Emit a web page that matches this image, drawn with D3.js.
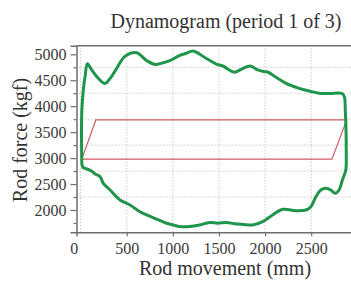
<!DOCTYPE html>
<html><head><meta charset="utf-8">
<script src="https://cdn.jsdelivr.net/npm/d3@7"></script>
<style>
html,body{margin:0;padding:0;background:#fff;overflow:hidden;}
svg{display:block;font-family:"Liberation Serif","Times New Roman",serif;}
</style></head>
<body>
<svg id="chart" width="351" height="281"></svg>
<script>
const title = "Dynamogram (period 1 of 3)";
const xLabel = "Rod movement (mm)";
const yLabel = "Rod force (kgf)";
const xTicks = [0, 500, 1000, 1500, 2000, 2500];
const yTicks = [2000, 2500, 3000, 3500, 4000, 4500, 5000];
const yMinorTicks = [1750, 2250, 2750, 3250, 3750, 4250, 4750];
// measured loop (rod movement, rod force)
const loopX = [12, 9, 13, 28, 50, 73, 120, 190, 265, 330, 391, 480, 607, 715, 805, 880, 966, 1075, 1147, 1218, 1363, 1471, 1542, 1668, 1740, 1838, 1920, 1992, 2028, 2119, 2227, 2370, 2478, 2586, 2694, 2835, 2860, 2870, 2878, 2880, 2875, 2838, 2802, 2759, 2713, 2659, 2605, 2551, 2497, 2443, 2335, 2190, 2082, 1974, 1866, 1760, 1668, 1579, 1488, 1398, 1290, 1182, 1075, 1002, 931, 858, 715, 643, 535, 427, 319, 246, 211, 157, 110, 49, 24, 13, 12];
const loopY = [3000, 3450, 3920, 4300, 4600, 4820, 4700, 4540, 4440, 4560, 4730, 4960, 5030, 4880, 4805, 4830, 4877, 4980, 5020, 5065, 4920, 4813, 4775, 4655, 4711, 4775, 4700, 4665, 4660, 4557, 4441, 4345, 4293, 4250, 4245, 4245, 4180, 3900, 3500, 3100, 2771, 2578, 2385, 2322, 2385, 2418, 2385, 2256, 2064, 2000, 1987, 2013, 1904, 1775, 1711, 1722, 1735, 1760, 1745, 1760, 1711, 1680, 1680, 1711, 1744, 1800, 1904, 1967, 2096, 2193, 2385, 2514, 2642, 2694, 2758, 2803, 2823, 2900, 3000];
// reference parallelogram (rod movement, rod force)
const refX = [12, 165, 2885, 2725, 12];
const refY = [2980, 3735, 3735, 2980, 2980];

const svg = d3.select("#chart");
const x = d3.scaleLinear().domain([-45, 2937]).range([76.5, 351.5]);
const y = d3.scaleLinear().domain([1570, 5166]).range([232.3, 45.7]);

const axisCol = "#6f6f6f";
const gridCol = "#b5b5b5";
const serif = '"Liberation Serif", "Times New Roman", serif';

// grid
const g = svg.append("g");
g.selectAll("line.vg").data(xTicks).join("line")
  .attr("x1", d => x(d)).attr("x2", d => x(d))
  .attr("y1", y.range()[0]).attr("y2", y.range()[1])
  .attr("stroke", gridCol).attr("stroke-width", 1).attr("stroke-dasharray", "1,2");
g.selectAll("line.hg").data(yMinorTicks.filter(d => d > 2000)).join("line")
  .attr("x1", x.range()[0]).attr("x2", x.range()[1])
  .attr("y1", d => y(d)).attr("y2", d => y(d))
  .attr("stroke", gridCol).attr("stroke-width", 1).attr("stroke-dasharray", "1,2");

// reference parallelogram
const refPts = refX.map((v, i) => [v, refY[i]]);
svg.append("path")
  .attr("d", d3.line().x(d => x(d[0])).y(d => y(d[1]))(refPts))
  .attr("fill", "none").attr("stroke", "#cf5b60").attr("stroke-width", 1.2);

// loop
const pts = loopX.map((v, i) => [v, loopY[i]]);
svg.append("path")
  .attr("d", d3.line().x(d => x(d[0])).y(d => y(d[1])).curve(d3.curveCatmullRom.alpha(0.5))(pts))
  .attr("fill", "none").attr("stroke", "#1f954b").attr("stroke-width", 3).attr("stroke-linejoin", "round");

// axes
const fmt = d3.format("d");
const xAxis = svg.append("g").attr("transform", `translate(0,${y.range()[0]})`)
  .call(d3.axisBottom(x).tickValues(xTicks).tickFormat(fmt).tickSize(4).tickPadding(6));
const yAxis = svg.append("g").attr("transform", `translate(${x.range()[0]},0)`)
  .call(d3.axisLeft(y).tickValues(yTicks).tickFormat(fmt).tickSize(6).tickPadding(4));
svg.append("g").attr("transform", `translate(${x.range()[0]},0)`)
  .call(d3.axisLeft(y).tickValues(yMinorTicks).tickSize(3).tickFormat(""))
  .call(a => a.select(".domain").remove())
  .selectAll("line").attr("stroke", axisCol).attr("stroke-width", 1.2);
[xAxis, yAxis].forEach(a => {
  a.attr("font-family", serif).attr("font-size", 16);
  a.select(".domain").attr("stroke", axisCol).attr("stroke-width", 1.5);
  a.selectAll(".tick line").attr("stroke", axisCol).attr("stroke-width", 1.2);
  a.selectAll(".tick text").attr("fill", "#3a3a3a")
    .attr("font-family", serif).attr("font-size", 16);
});
xAxis.select(".tick line").attr("display", "none");
xAxis.select(".tick text").attr("dx", -7);
// top frame line
svg.append("line")
  .attr("x1", x.range()[0]).attr("x2", x.range()[1])
  .attr("y1", y.range()[1]).attr("y2", y.range()[1])
  .attr("stroke", axisCol).attr("stroke-width", 1.5);

// texts
svg.append("text").attr("x", 226).attr("y", 28).attr("text-anchor", "middle")
  .attr("fill", "#333").attr("font-family", serif).attr("font-size", 20).text(title);
svg.append("text").attr("x", 225).attr("y", 275).attr("text-anchor", "middle")
  .attr("fill", "#333").attr("font-family", serif).attr("font-size", 20).text(xLabel);
svg.append("text").attr("transform", "translate(27,140) rotate(-90)").attr("text-anchor", "middle")
  .attr("fill", "#333").attr("font-family", serif).attr("font-size", 20).text(yLabel);
</script>
</body></html>
